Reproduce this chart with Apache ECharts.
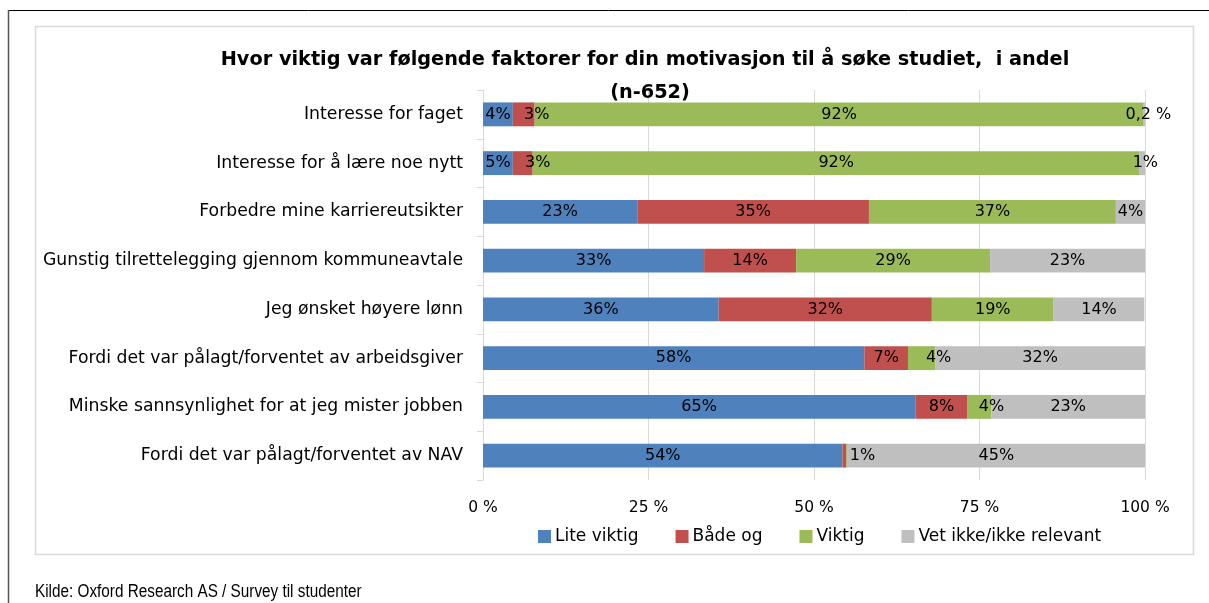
<!DOCTYPE html>
<html>
<head>
<meta charset="utf-8">
<script src="https://cdn.jsdelivr.net/npm/echarts@6/dist/echarts.min.js"></script>
<style>
  html, body { margin: 0; padding: 0; background: #fff; }
  #chart { width: 1209px; height: 603px; }
</style>
</head>
<body>
<div id="chart"></div>
<script>
const categories = [
  'Interesse for faget',
  'Interesse for å lære noe nytt',
  'Forbedre mine karriereutsikter',
  'Gunstig tilrettelegging gjennom kommuneavtale',
  'Jeg ønsket høyere lønn',
  'Fordi det var pålagt/forventet av arbeidsgiver',
  'Minske sannsynlighet for at jeg mister jobben',
  'Fordi det var pålagt/forventet av NAV'
];
const seriesNames = ['Lite viktig', 'Både og', 'Viktig', 'Vet ikke/ikke relevant'];

const liteViktig = [4.5, 4.5, 23.3, 33.4, 35.6, 57.6, 65.3, 54.3];
const baadeOg    = [3.3, 3.0, 35.0, 13.9, 32.2, 6.6, 7.9, 0.6];
const viktig     = [92.0, 91.7, 37.3, 29.3, 18.4, 4.1, 3.6, 0.2];
const vetIkke    = [0.2, 0.8, 4.4, 23.4, 13.7, 31.7, 23.3, 44.9];

const liteLabels   = ['4%', '5%', '23%', '33%', '36%', '58%', '65%', '54%'];
const baadeLabels  = ['3%', '3%', '35%', '14%', '32%', '7%', '8%', '1%'];
const viktigLabels = ['92%', '92%', '37%', '29%', '19%', '4%', '4%', ''];
const vetLabels    = ['0,2 %', '1%', '4%', '23%', '14%', '32%', '23%', '45%'];

const xTicks = [0, 25, 50, 75, 100];

const titleText = 'Hvor viktig var følgende faktorer for din motivasjon til å søke studiet,  i andel';
const subtitleText = '(n-652)';
const sourceText = 'Kilde: Oxford Research AS / Survey til studenter';

// style config (label nudges, px) kept separate from data
const colors = ['#4F81BD', '#C0504D', '#9BBB59', '#BFBFBF'];
const labelNudge = [
  {},
  {0: 13, 1: 15, 7: 18},
  {5: 17, 6: 12},
  {0: 4, 1: 3}
];

const allValues = [liteViktig, baadeOg, viktig, vetIkke];
const allLabels = [liteLabels, baadeLabels, viktigLabels, vetLabels];
const FONT = '"DejaVu Sans", "Liberation Sans", sans-serif';

const series = allValues.map((vals, si) => ({
  name: seriesNames[si],
  type: 'bar',
  stack: 'total',
  barWidth: '49%',
  itemStyle: { color: colors[si] },
  data: vals.map((v, i) => {
    const item = { value: v };
    const dx = labelNudge[si][i];
    if (dx) item.label = { offset: [dx, 0] };
    return item;
  }),
  label: {
    show: true,
    position: 'inside',
    color: '#000',
    fontSize: 16,
    fontFamily: FONT,
    formatter: p => allLabels[si][p.dataIndex]
  },
  emphasis: { disabled: true }
}));

const chart = echarts.init(document.getElementById('chart'), null, { renderer: 'canvas' });
chart.setOption({
  animation: false,
  backgroundColor: '#fff',
  textStyle: { fontFamily: FONT },
  title: [
    { text: titleText, left: 645, top: 50, padding: 0, textAlign: 'center',
      textStyle: { fontSize: 19.3, fontWeight: 'bold', color: '#000', fontFamily: FONT } },
    { text: subtitleText, left: 650, top: 83, padding: 0, textAlign: 'center',
      textStyle: { fontSize: 19.3, fontWeight: 'bold', color: '#000', fontFamily: FONT } }
  ],
  grid: { left: 483, right: 64, top: 90, bottom: 123, containLabel: false },
  legend: {
    data: seriesNames,
    left: 533, top: 523,
    icon: 'rect', itemWidth: 13, itemHeight: 13, itemGap: 37,
    textStyle: { fontSize: 17, color: '#000', fontFamily: FONT, padding: [0, 0, 0, -1] }
  },
  xAxis: {
    type: 'value', min: 0, max: 100, interval: 25,
    axisLine: { show: false }, axisTick: { show: false },
    splitLine: { show: true, lineStyle: { color: '#D9D9D9', width: 1 } },
    axisLabel: { fontSize: 15.5, color: '#000', margin: 20, formatter: v => v + ' %' }
  },
  yAxis: {
    type: 'category', data: categories, inverse: true,
    axisLine: { show: true, lineStyle: { color: '#D9D9D9' } },
    axisTick: { show: true, length: 6, lineStyle: { color: '#D9D9D9' } },
    axisLabel: { fontSize: 17.25, color: '#000', margin: 20 }
  },
  series: series,
  graphic: [
    { type: 'line', shape: { x1: 8, y1: 10.5, x2: 1209, y2: 10.5 }, style: { stroke: '#000', lineWidth: 1 }, silent: true },
    { type: 'line', shape: { x1: 8.5, y1: 10, x2: 8.5, y2: 603 }, style: { stroke: '#555', lineWidth: 1.5 }, silent: true },
    { type: 'rect', shape: { x: 35.5, y: 26.5, width: 1158, height: 528 }, style: { fill: 'none', stroke: '#D9D9D9', lineWidth: 1.5 }, silent: true, z: -1 },
    { type: 'text', x: 35, y: 592, scaleX: 0.85, silent: true,
      style: { text: sourceText, font: '18px "Liberation Sans", Arial, sans-serif', fill: '#000', verticalAlign: 'middle', align: 'left' } }
  ]
});
</script>
</body>
</html>
